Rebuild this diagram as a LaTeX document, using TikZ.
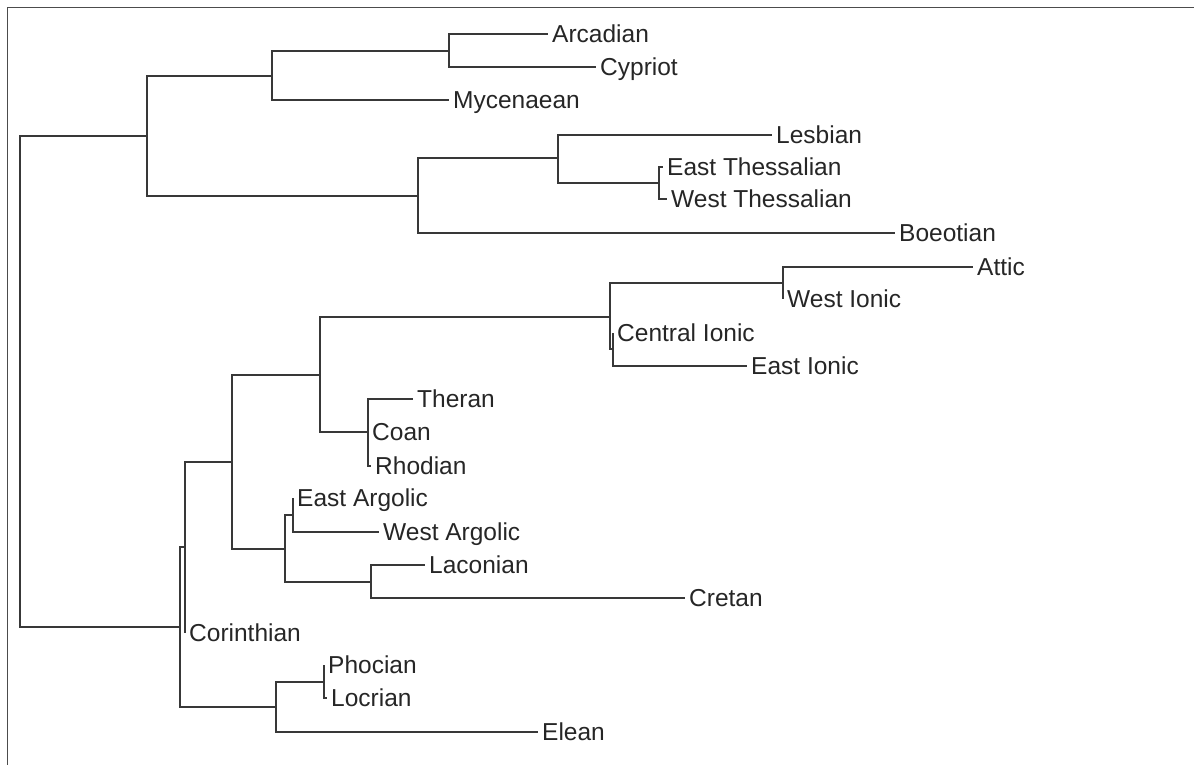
\documentclass[tikz,border=0pt]{standalone}
\usepackage{fontspec}
\setmainfont{Liberation Sans}
\usepackage{tikz}
\usetikzlibrary{positioning}

\begin{document}
\begin{tikzpicture}[x=1pt, y=-1pt,
		limb/.style={draw=black!78, line width=1.7pt},
		taxon/.style={anchor=west, inner xsep=4pt, inner ysep=0pt, text=black!85,
			font=\fontsize{24.5}{28}\selectfont, text height=17.6pt, text depth=0pt},
		frameline/.style={draw=black!70, line width=1.5pt}]
	\useasboundingbox (0,0) rectangle (1194,765);
	% only the top and left edges of the plot box survive the crop
	\draw[frameline] (1194,7.5) -- (7.5,7.5) -- (7.5,765);

	% internal nodes, pixel coordinates of the dendrogram
	\coordinate (root) at (20,381);
	\coordinate (nTop) at (147,136);
	\coordinate (nA) at (272,76);
	\coordinate (nAC) at (449,51);
	\coordinate (nB) at (418,196);
	\coordinate (nB1) at (558,158);
	\coordinate (nTh) at (659,183);
	\coordinate (nBot) at (180,627);
	\coordinate (nP) at (185,547);
	\coordinate (nC) at (232,462);
	\coordinate (nD) at (320,375);
	\coordinate (nIon) at (610,317);
	\coordinate (nAW) at (783,283);
	\coordinate (nCE) at (613,349);
	\coordinate (nDod) at (368,432);
	\coordinate (nE) at (285,549);
	\coordinate (nArg) at (293,515);
	\coordinate (nF) at (371,582);
	\coordinate (nG) at (276,707);
	\coordinate (nPL) at (324,682);

	% leaves, placed where their branch ends
	\node[taxon] (arcadian) at (548,34) {Arcadian};
	\node[taxon] (cypriot) at (596,67) {Cypriot};
	\node[taxon] (mycenaean) at (449,100) {Mycenaean};
	\node[taxon] (lesbian) at (772,135) {Lesbian};
	\node[taxon] (ethess) at (663,167) {East Thessalian};
	\node[taxon] (wthess) at (667,199) {West Thessalian};
	\node[taxon] (boeotian) at (895,233) {Boeotian};
	\node[taxon] (attic) at (973,267) {Attic};
	\node[taxon] (wionic) at (783,299) {West Ionic};
	\node[taxon] (cionic) at (613,333) {Central Ionic};
	\node[taxon] (eionic) at (747,366) {East Ionic};
	\node[taxon] (theran) at (413,399) {Theran};
	\node[taxon] (coan) at (368,432) {Coan};
	\node[taxon] (rhodian) at (371,466) {Rhodian};
	\node[taxon] (eargolic) at (293,498) {East Argolic};
	\node[taxon] (wargolic) at (379,532) {West Argolic};
	\node[taxon] (laconian) at (425,565) {Laconian};
	\node[taxon] (cretan) at (685,598) {Cretan};
	\node[taxon] (corinthian) at (185,633) {Corinthian};
	\node[taxon] (phocian) at (324,665) {Phocian};
	\node[taxon] (locrian) at (327,698) {Locrian};
	\node[taxon] (elean) at (538,732) {Elean};

	% elbow branches, parent to child
	\draw[limb] (root) |- (nTop);
	\draw[limb] (root) |- (nBot);
	\draw[limb] (nTop) |- (nA);
	\draw[limb] (nTop) |- (nB);
	\draw[limb] (nA) |- (nAC);
	\draw[limb] (nA) |- (mycenaean.west);
	\draw[limb] (nAC) |- (arcadian.west);
	\draw[limb] (nAC) |- (cypriot.west);
	\draw[limb] (nB) |- (nB1);
	\draw[limb] (nB) |- (boeotian.west);
	\draw[limb] (nB1) |- (lesbian.west);
	\draw[limb] (nB1) |- (nTh);
	\draw[limb] (nTh) |- (ethess.west);
	\draw[limb] (nTh) |- (wthess.west);
	\draw[limb] (nBot) |- (nP);
	\draw[limb] (nBot) |- (nG);
	\draw[limb] (nP) |- (nC);
	\draw[limb] (nP) |- (corinthian.west);
	\draw[limb] (nC) |- (nD);
	\draw[limb] (nC) |- (nE);
	\draw[limb] (nD) |- (nIon);
	\draw[limb] (nD) |- (nDod);
	\draw[limb] (nIon) |- (nAW);
	\draw[limb] (nIon) |- (nCE);
	\draw[limb] (nAW) |- (attic.west);
	\draw[limb] (nAW) |- (wionic.west);
	\draw[limb] (nCE) |- (cionic.west);
	\draw[limb] (nCE) |- (eionic.west);
	\draw[limb] (nDod) |- (theran.west);
	\draw[limb] (nDod) |- (coan.west);
	\draw[limb] (nDod) |- (rhodian.west);
	\draw[limb] (nE) |- (nArg);
	\draw[limb] (nE) |- (nF);
	\draw[limb] (nArg) |- (eargolic.west);
	\draw[limb] (nArg) |- (wargolic.west);
	\draw[limb] (nF) |- (laconian.west);
	\draw[limb] (nF) |- (cretan.west);
	\draw[limb] (nG) |- (nPL);
	\draw[limb] (nG) |- (elean.west);
	\draw[limb] (nPL) |- (phocian.west);
	\draw[limb] (nPL) |- (locrian.west);
\end{tikzpicture}
\end{document}
